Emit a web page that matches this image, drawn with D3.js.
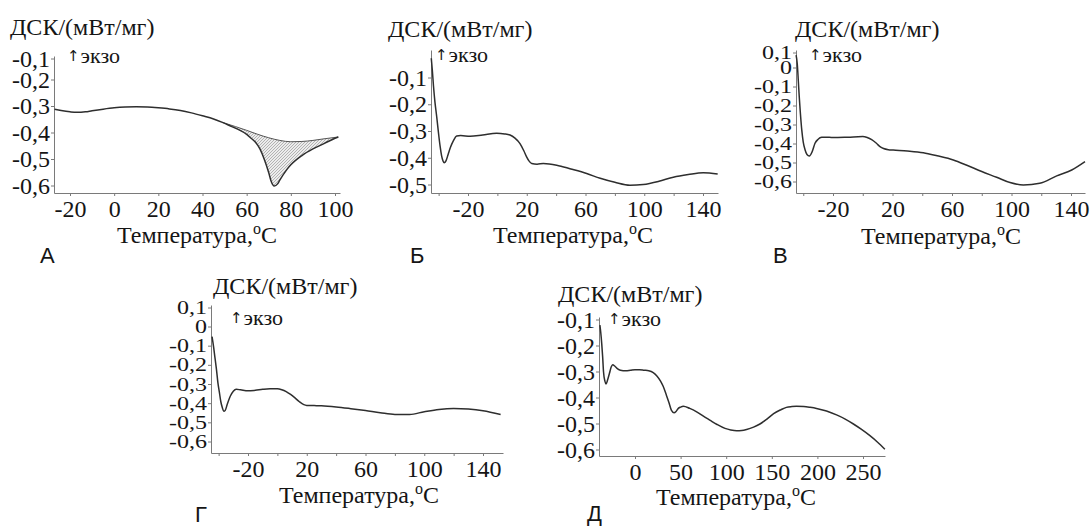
<!DOCTYPE html>
<html>
<head>
<meta charset="utf-8">
<script src="https://cdn.jsdelivr.net/npm/d3@7"></script>
<style>
  html, body { margin: 0; padding: 0; background: #fff; }
  svg { display: block; }
  .serif { font-family: "Liberation Serif", "DejaVu Serif", "Times New Roman", Times, serif; }
  .sans { font-family: "Liberation Sans", Arial, Helvetica, sans-serif; }
  .arrow { font-family: "DejaVu Sans", sans-serif; }
</style>
</head>
<body>
<script>
// ---------- DATA ----------
const panelLetters = ["А", "Б", "В", "Г", "Д"];
const yTitle = "ДСК/(мВт/мг)";
const xTitle = "Температура,";
const xUnitSup = "o";
const xUnit = "C";
const exoArrow = "↑";
const exoText = "экзо";

// Panel А
const aTemp = [-27,-24,-20,-17,-13,-10,-5,0,5,10,15,20,25,30,35,40,45,49,53,57,60,62,64,66,68,70,71,72.5,74,75,78,80,85,90,95,100,101.5];
const aDsc  = [-0.31,-0.315,-0.32,-0.322,-0.32,-0.316,-0.31,-0.305,-0.302,-0.301,-0.302,-0.305,-0.309,-0.315,-0.324,-0.335,-0.347,-0.36,-0.375,-0.39,-0.405,-0.42,-0.435,-0.46,-0.5,-0.55,-0.58,-0.6,-0.592,-0.578,-0.54,-0.52,-0.485,-0.46,-0.44,-0.42,-0.415];
const aBaseTemp = [49,55,60,65,70,75,80,85,90,95,101.5];
const aBaseDsc  = [-0.36,-0.376,-0.39,-0.405,-0.418,-0.428,-0.433,-0.432,-0.428,-0.422,-0.415];
const aPeakStart = 49;
const aXTicks = [-20,0,20,40,60,80,100];
const aXLabels = [-20,0,20,40,60,80,100];
const aYTicks = [-0.6,-0.5,-0.4,-0.3,-0.2,-0.1];

// Panel Б
const bTemp = [-45,-44.3,-43.5,-42.5,-41.3,-40,-39,-38,-37,-36.2,-35,-33.5,-32,-30,-27.7,-25,-18.6,-10,-0.5,5,8.6,12,15.4,18,19.9,21.5,23.4,27,31.3,40.4,50,60.8,70,80,90.3,99.3,110,119.8,130,140.2,150];
const bDsc  = [-0.026,-0.07,-0.13,-0.19,-0.245,-0.31,-0.355,-0.39,-0.41,-0.417,-0.41,-0.385,-0.36,-0.335,-0.317,-0.315,-0.318,-0.313,-0.307,-0.309,-0.313,-0.325,-0.345,-0.372,-0.395,-0.41,-0.42,-0.422,-0.42,-0.426,-0.44,-0.457,-0.475,-0.49,-0.501,-0.498,-0.486,-0.471,-0.461,-0.454,-0.459];
const bXTicks = [-40,-20,0,20,40,60,80,100,120,140];
const bXLabels = [-20,20,60,100,140];
const bYTicks = [-0.5,-0.4,-0.3,-0.2,-0.1];

// Panel В
const vTemp = [-44.8,-44,-43.3,-42.7,-42,-41,-40,-38.8,-37.5,-35.9,-34,-32.1,-30,-27.6,-25,-20,-10,0,3,6,9,11.6,14,17.2,20.5,30,40.7,50,60.9,70,80,90,99,108,119,130.4,140.5,149.4];
const vDsc  = [0.068,0.02,-0.07,-0.15,-0.23,-0.326,-0.39,-0.43,-0.455,-0.463,-0.44,-0.396,-0.375,-0.365,-0.364,-0.366,-0.364,-0.361,-0.366,-0.377,-0.395,-0.414,-0.424,-0.43,-0.432,-0.437,-0.446,-0.462,-0.484,-0.512,-0.545,-0.575,-0.603,-0.616,-0.607,-0.568,-0.537,-0.493];
const vXTicks = [-40,-20,0,20,40,60,80,100,120,140];
const vXLabels = [-20,20,60,100,140];
const vYTicks = [-0.6,-0.5,-0.4,-0.3,-0.2,-0.1,0,0.1];

// Panel Г
const gTemp = [-44.5,-43.5,-42.5,-41.5,-40.5,-39.5,-38.5,-37.5,-36.5,-35.5,-34,-32,-30,-28,-25,-20,-15,-10,-5,0,3,6,9,12,15,18,20,25,30,40,50,60,70,80,90,100,110,120,130,140,152];
const gDsc  = [-0.05,-0.1,-0.16,-0.22,-0.29,-0.34,-0.39,-0.42,-0.44,-0.435,-0.4,-0.36,-0.335,-0.325,-0.328,-0.333,-0.33,-0.325,-0.322,-0.322,-0.327,-0.337,-0.352,-0.37,-0.39,-0.405,-0.409,-0.41,-0.411,-0.417,-0.426,-0.436,-0.447,-0.456,-0.456,-0.442,-0.43,-0.425,-0.428,-0.437,-0.457];
const gXTicks = [-40,-20,0,20,40,60,80,100,120,140];
const gXLabels = [-20,20,60,100,140];
const gYTicks = [-0.6,-0.5,-0.4,-0.3,-0.2,-0.1,0,0.1];

// Panel Д
const dTemp = [-38.5,-37.5,-36.5,-35.5,-34.5,-33,-31.8,-30,-28,-26,-24.5,-22,-19,-16,-10,-5,0,5,10,15,20,24,28,31,34,37,40,42.8,45,47.5,50,53,60,67.6,75,82,90,98.7,105,111.5,117,122.4,130,137,145,152,160,166,172,177,185,192,199,210,221,230,239.5,248,257.6,266,274];
const dDsc  = [-0.12,-0.15,-0.19,-0.24,-0.3,-0.335,-0.346,-0.33,-0.305,-0.28,-0.272,-0.278,-0.288,-0.293,-0.295,-0.293,-0.291,-0.291,-0.293,-0.295,-0.302,-0.315,-0.335,-0.356,-0.385,-0.415,-0.448,-0.457,-0.452,-0.44,-0.435,-0.432,-0.44,-0.453,-0.47,-0.485,-0.502,-0.517,-0.523,-0.526,-0.525,-0.521,-0.512,-0.5,-0.48,-0.46,-0.445,-0.436,-0.433,-0.432,-0.433,-0.436,-0.44,-0.45,-0.465,-0.48,-0.5,-0.52,-0.545,-0.57,-0.597];
const dXTicks = [0,50,100,150,200,250];
const dXLabels = [0,50,100,150,200,250];
const dYTicks = [-0.6,-0.5,-0.4,-0.3,-0.2,-0.1];

// ---------- LAYOUT ----------
const W = 1090, H = 528;
const ink = "#151515";
const axisCol = "#7a7a7a";
const lineCol = "#2e2e2e";

const panels = [
  {temp:aTemp, dsc:aDsc, xTicks:aXTicks, xLabels:aXLabels, yTicks:aYTicks, ySquish:1,
   left:54, right:340, top:56, bottom:193, xA:[-20,70,100,335], yA:[-0.2,80,-0.6,186],
   title:[10,35], exo:[67,63], xLab:[197,243], letter:[40,263]},
  {temp:bTemp, dsc:bDsc, xTicks:bXTicks, xLabels:bXLabels, yTicks:bYTicks, ySquish:1,
   left:431, right:718, top:50, bottom:193, xA:[-20,468,140,703], yA:[-0.1,78,-0.5,185],
   title:[388,37], exo:[435,62], xLab:[573,243], letter:[410,263]},
  {temp:vTemp, dsc:vDsc, xTicks:vXTicks, xLabels:vXLabels, yTicks:vYTicks, ySquish:0.8,
   left:796, right:1085, top:50, bottom:193, xA:[-20,833,140,1071], yA:[0,68,-0.6,182],
   title:[795,37], exo:[809,62], xLab:[941,244], letter:[773,263]},
  {temp:gTemp, dsc:gDsc, xTicks:gXTicks, xLabels:gXLabels, yTicks:gYTicks, ySquish:0.8,
   left:211, right:503, top:305, bottom:453, xA:[-20,248,140,483], yA:[0,327,-0.6,442],
   title:[213,294], exo:[230,325], xLab:[359,503], letter:[195,522]},
  {temp:dTemp, dsc:dDsc, xTicks:dXTicks, xLabels:dXLabels, yTicks:dYTicks, ySquish:1,
   left:599, right:885, top:317, bottom:456, xA:[0,635,250,863], yA:[-0.1,320,-0.6,450],
   title:[558,302], exo:[608,326], xLab:[736,505], letter:[587,521]}
];

const svg = d3.select("body").append("svg")
  .attr("width", W).attr("height", H)
  .attr("viewBox", `0 0 ${W} ${H}`);
svg.append("rect").attr("width", W).attr("height", H).attr("fill", "#fff");

// hatch pattern for panel А peak
const defs = svg.append("defs");
const pat = defs.append("pattern").attr("id", "hatch")
  .attr("patternUnits", "userSpaceOnUse").attr("width", 3).attr("height", 3);
pat.append("rect").attr("width", 3).attr("height", 3).attr("fill", "#ececec");
pat.append("path").attr("d", "M0,3 L3,0 M-1,1 L1,-1 M2,4 L4,2")
  .attr("stroke", "#9a9a9a").attr("stroke-width", 0.7);

const fmtY = v => {
  const r = Math.round(v * 10) / 10;
  return (r === 0 ? "0" : String(r)).replace(".", ",");
};

panels.forEach((p, i) => {
  const xt = d3.scaleLinear().domain([p.xA[0], p.xA[2]]).range([p.xA[1], p.xA[3]]);
  const yt = d3.scaleLinear().domain([p.yA[0], p.yA[2]]).range([p.yA[1], p.yA[3]]);
  const x = d3.scaleLinear().domain([xt.invert(p.left), xt.invert(p.right)]).range([p.left, p.right]);
  const y = d3.scaleLinear().domain([yt.invert(p.bottom), yt.invert(p.top)]).range([p.bottom, p.top]);

  const g = svg.append("g");

  // Y axis
  const gy = g.append("g").attr("transform", `translate(${p.left},0)`)
    .call(d3.axisLeft(y).tickValues(p.yTicks).tickSize(3).tickSizeOuter(0).tickPadding(1).tickFormat(fmtY));
  gy.selectAll(".tick").attr("transform", d => `translate(0,${Math.max(y(d), p.top + 3)})`);

  // X axis
  const gx = g.append("g").attr("transform", `translate(0,${p.bottom})`)
    .call(d3.axisBottom(x).tickValues(p.xTicks).tickSize(3).tickSizeOuter(0).tickPadding(4)
      .tickFormat(d => p.xLabels.includes(d) ? String(d) : ""));

  [gy, gx].forEach(a => {
    a.attr("font-family", null).attr("font-size", null);
    a.select(".domain").attr("stroke", axisCol).attr("stroke-width", 1);
    a.selectAll(".tick line").attr("stroke", axisCol);
    a.selectAll(".tick text").attr("fill", ink).attr("class", "serif")
      .attr("font-size", 24);
  });
  if (p.ySquish !== 1) {
    gy.selectAll(".tick text").attr("transform", `scale(1,${p.ySquish})`);
  }

  const line = d3.line().x(d => x(d[0])).y(d => y(d[1])).curve(d3.curveMonotoneX);

  // Panel А peak area
  if (i === 0) {
    const lower = aTemp.map((t, k) => [t, aDsc[k]]).filter(d => d[0] >= aPeakStart);
    const base = aBaseTemp.map((t, k) => [t, aBaseDsc[k]]);
    const baseRev = line(base.slice().reverse());
    g.append("path").attr("d", line(lower) + "L" + baseRev.slice(1) + "Z")
      .attr("fill", "url(#hatch)").attr("stroke", "none");
    g.append("path").attr("d", line(base)).attr("fill", "none")
      .attr("stroke", "#555").attr("stroke-width", 1);
  }

  // main curve
  const pts = p.temp.map((t, k) => [t, p.dsc[k]]);
  g.append("path").attr("d", line(pts)).attr("fill", "none")
    .attr("stroke", lineCol).attr("stroke-width", 1.5).attr("stroke-linejoin", "round");

  // title
  g.append("text").attr("class", "serif").attr("x", p.title[0]).attr("y", p.title[1])
    .attr("font-size", 24).attr("fill", ink)
    .text(yTitle);

  // exo
  const ex = g.append("text").attr("class", "serif").attr("x", p.exo[0]).attr("y", p.exo[1])
    .attr("fill", ink);
  ex.append("tspan").attr("class", "arrow").attr("font-size", 15).attr("dy", -2).text(exoArrow);
  ex.append("tspan").attr("font-size", 22).attr("dy", 2).attr("dx", 1).text(exoText);

  // x label
  const xl = g.append("text").attr("class", "serif").attr("x", p.xLab[0]).attr("y", p.xLab[1])
    .attr("text-anchor", "middle").attr("font-size", 24).attr("fill", ink);
  xl.append("tspan").text(xTitle);
  xl.append("tspan").attr("dy", -9).attr("font-size", 16).text(xUnitSup);
  xl.append("tspan").attr("dy", 9).text(xUnit);

  // panel letter
  g.append("text").attr("class", "sans").attr("x", p.letter[0]).attr("y", p.letter[1])
    .attr("font-size", 22).attr("fill", ink)
    .text(panelLetters[i]);
});
</script>
</body>
</html>
